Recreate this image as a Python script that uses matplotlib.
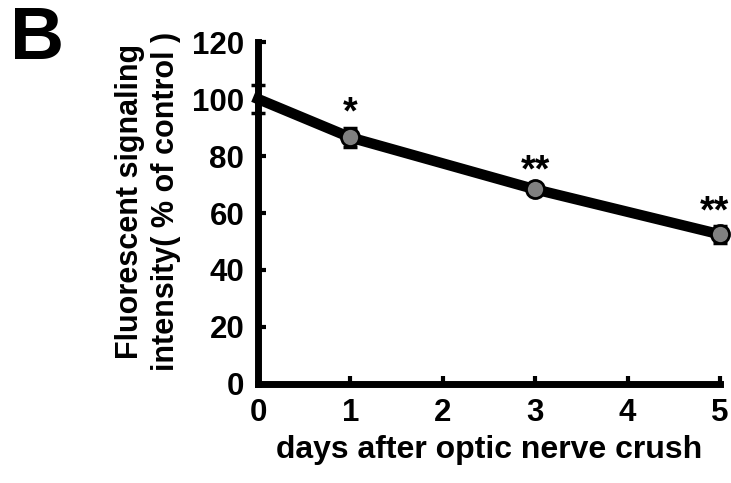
import matplotlib
matplotlib.use("Agg")
import matplotlib.pyplot as plt

days = [0, 1, 3, 5]
values = [100, 86.5, 68.3, 52.5]
errors = [5, 3.5, 1.5, 3]
stars = ["", "*", "**", "**"]
xticks = [0, 1, 2, 3, 4, 5]
yticks = [0, 20, 40, 60, 80, 100, 120]

plt.rcParams['font.family'] = ['Liberation Sans', 'DejaVu Sans']
plt.rcParams['font.weight'] = 'bold'

fig = plt.figure(figsize=(7.31, 4.83), dpi=100)
ax = fig.add_axes([0.353, 0.205, 0.632, 0.708])

ax.plot(days, values, color='black', lw=7.5, solid_joinstyle='round', clip_on=False, zorder=3)
ax.errorbar(days, values, yerr=errors, fmt='none', ecolor='black', elinewidth=2,
            capsize=5, capthick=2.5, clip_on=False, zorder=4)
ax.plot(days[1:], values[1:], 'o', ms=13, mfc='#808080', mec='black', mew=2,
        clip_on=False, zorder=5)
for i, (d, v, e, s) in enumerate(zip(days, values, errors, stars)):
    if s:
        dx = -4 if i == len(days) - 1 else 0
        ax.annotate(s, (d, v + e), xytext=(dx, -3), textcoords='offset points',
                    ha='center', va='bottom', fontsize=27, fontweight='bold',
                    annotation_clip=False)

ax.set_xlim(0, 5)
ax.set_ylim(0, 120)
ax.set_xticks(xticks)
ax.set_yticks(yticks)
for sp in ['top', 'right']:
    ax.spines[sp].set_visible(False)
for sp in ['left', 'bottom']:
    ax.spines[sp].set_linewidth(5)
ax.tick_params(direction='in', length=6, width=3, labelsize=22.5, pad=10)
for lab in ax.get_xticklabels() + ax.get_yticklabels():
    lab.set_fontweight('bold')

ax.set_xlabel("days after optic nerve crush", fontsize=23, fontweight='bold', labelpad=5)
ax.set_ylabel("Fluorescent signaling\nintensity( % of control )", fontsize=22,
              fontweight='bold', linespacing=1.25, labelpad=8)
ax.yaxis.set_label_coords(-0.167, 0.535)

fig.text(0.014, 0.99, "B", fontsize=54, fontweight='bold', ha='left', va='top')

fig.savefig("out.png", dpi=100)
